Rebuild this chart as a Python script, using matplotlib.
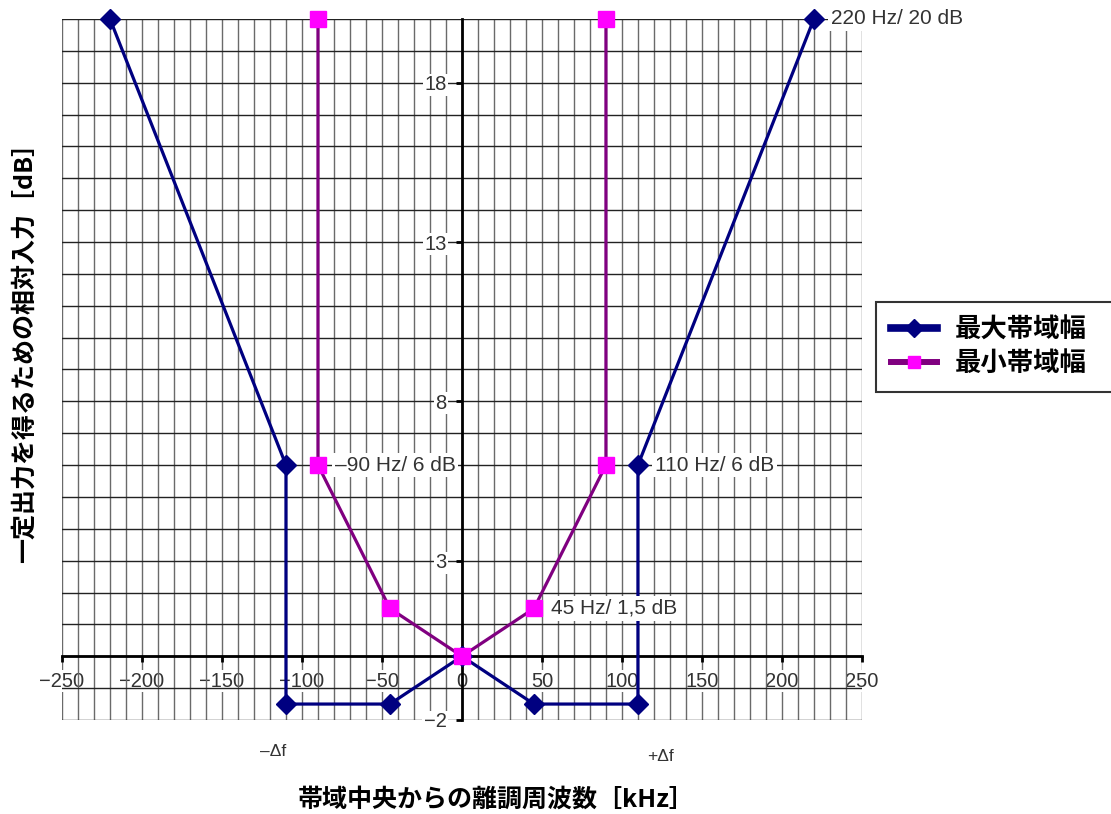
import matplotlib
matplotlib.use("Agg")
import matplotlib.pyplot as plt
from matplotlib.ticker import MultipleLocator

plt.rcParams['font.family'] = ['Liberation Sans', 'Noto Sans CJK JP', 'DejaVu Sans']

# max bandwidth curve (kHz offset, dB)
maxFreq = [-220, -110, -110, -45, 0, 45, 110, 110, 220]
maxLevel = [20, 6, -1.5, -1.5, 0, -1.5, -1.5, 6, 20]

# min bandwidth curve
minFreq = [-90, -90, -45, 0, 45, 90, 90]
minLevel = [20, 6, 1.5, 0, 1.5, 6, 20]

xTicks = [-250, -200, -150, -100, -50, 0, 50, 100, 150, 200, 250]
yTicks = [-2, 3, 8, 13, 18]

# point labels: (x, y, text)
pointLabels = [
    (220, 20, "220 Hz/ 20 dB"),
    (-90, 6, "\u201390 Hz/ 6 dB"),
    (110, 6, "110 Hz/ 6 dB"),
    (45, 1.5, "45 Hz/ 1,5 dB"),
]

seriesNames = ["最大帯域幅", "最小帯域幅"]

fig = plt.figure(figsize=(11.11, 8.14), dpi=100)
ax = fig.add_axes([0.0558, 0.1155, 0.7200, 0.8612])

ax.set_xlim(-250, 250)
ax.set_ylim(-2, 20)

# dense grid, vertical lines a bit lighter than horizontal ones
ax.xaxis.set_minor_locator(MultipleLocator(10))
ax.yaxis.set_minor_locator(MultipleLocator(1))
ax.xaxis.grid(True, which='both', color='#6a6a6a', linewidth=1.0, zorder=0)
ax.yaxis.grid(True, which='both', color='#222222', linewidth=1.0, zorder=0)
ax.set_axisbelow(True)

# axes through the origin
ax.spines['left'].set_position(('data', 0))
ax.spines['bottom'].set_position(('data', 0))
ax.spines['left'].set_linewidth(2)
ax.spines['bottom'].set_linewidth(2)
ax.spines['top'].set_visible(False)
ax.spines['right'].set_visible(False)

ax.set_xticks(xTicks)
ax.set_yticks(yTicks)
ax.tick_params(which='major', direction='out', length=4, width=2,
               labelsize=14.5, labelcolor='#333333', pad=7)
ax.tick_params(which='minor', length=0)
for lab in ax.get_xticklabels() + ax.get_yticklabels():
    lab.set_bbox(dict(facecolor='white', edgecolor='none', pad=1))

l1, = ax.plot(maxFreq, maxLevel, color='#000080', linewidth=2.3,
              marker='D', markersize=10, markerfacecolor='#000080',
              markeredgecolor='#000080', zorder=4, clip_on=False)
l2, = ax.plot(minFreq, minLevel, color='#800080', linewidth=2.3,
              marker='s', markersize=12, markerfacecolor='#ff00ff',
              markeredgecolor='#ff00ff', zorder=5, clip_on=False)

for x, y, txt in pointLabels:
    ax.annotate(txt, (x, y), xytext=(12, 0), textcoords='offset points',
                ha='left', va='center', fontsize=15, color='#333333',
                bbox=dict(facecolor='white', edgecolor='none', pad=2),
                zorder=6, annotation_clip=False)

ax.text(-118, -3.0, "\u2013\u0394f", ha='center', va='center', fontsize=12.5,
        color='#333333', clip_on=False)
ax.text(124, -3.15, "+\u0394f", ha='center', va='center', fontsize=12.5,
        color='#333333', clip_on=False)

fig.text(0.447, 0.018, "帯域中央からの離調周波数［kHz］", ha='center', va='center',
         fontsize=18, fontweight='bold', family=['Noto Sans CJK JP', 'DejaVu Sans'])
fig.text(0.022, 0.574, "一定出力を得るための相対入力［dB］", ha='center', va='center',
         rotation=90, fontsize=18, fontweight='bold',
         family=['Noto Sans CJK JP', 'DejaVu Sans'])

# legend box runs off the right edge of the figure, as in the original
leg = fig.legend([l1, l2], seriesNames, loc='upper left',
                 bbox_to_anchor=(0.7885, 0.629, 0.26, 0), mode='expand',
                 borderaxespad=0, frameon=True, fancybox=False,
                 edgecolor='black', handlelength=1.75, handletextpad=0.7,
                 borderpad=0.55, labelspacing=0.25,
                 prop={'family': 'Noto Sans CJK JP', 'weight': 'bold', 'size': 19})
leg.get_frame().set_linewidth(1.5)
leg.legend_handles[0].set_linewidth(5.5)
leg.legend_handles[1].set_linewidth(4.3)
for h in leg.legend_handles:
    h.set_markersize(9)

fig.savefig("out.png", dpi=100)
